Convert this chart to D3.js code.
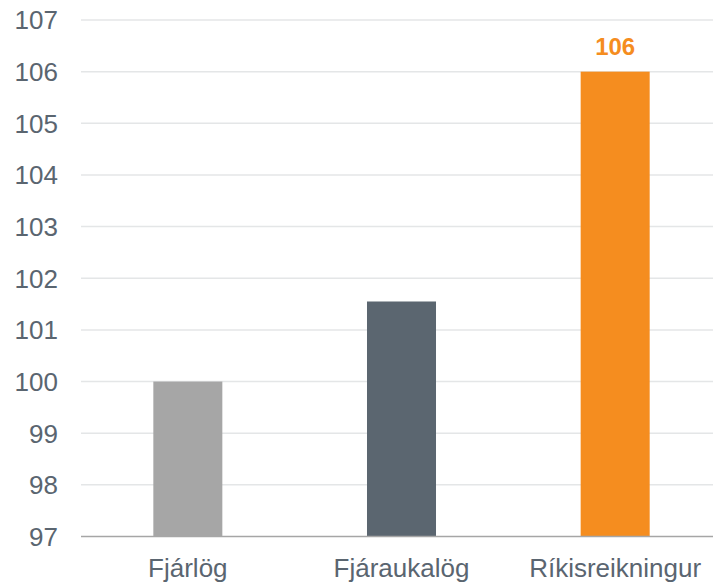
<!DOCTYPE html>
<html>
<head>
<meta charset="utf-8">
<script src="https://cdn.jsdelivr.net/npm/d3@7"></script>
<style>
  body { margin: 0; background: #fff; }
  text { font-family: "Liberation Sans", Arial, sans-serif; }
</style>
</head>
<body>
<div id="chart"></div>
<script>
const categories = ["Fjárlög", "Fjáraukalög", "Ríkisreikningur"];
const values = [100, 101.55, 106];
const colors = ["#a6a6a6", "#5b6670", "#f58d1f"];
const yTicks = [97, 98, 99, 100, 101, 102, 103, 104, 105, 106, 107];
const labelled = [false, false, true];

const width = 713, height = 583;

var svg = d3.select("#chart")
    .append("svg")
    .attr("width", width)
    .attr("height", height);

var x = d3.scaleBand()
    .domain(categories)
    .range([81, 722])
    .paddingInner(0.677)
    .paddingOuter(0.3385);

var y = d3.scaleLinear()
    .domain([97, 107])
    .range([536.5, 20]);

// gridlines
svg.append("g")
    .selectAll("line")
    .data(yTicks.slice(1))
    .enter().append("line")
    .attr("x1", 81)
    .attr("x2", width)
    .attr("y1", d => y(d))
    .attr("y2", d => y(d))
    .attr("stroke", "#e4e6e7")
    .attr("stroke-width", 1.5);

// tick labels
svg.append("g")
    .selectAll("text")
    .data(yTicks)
    .enter().append("text")
    .attr("x", 58)
    .attr("y", d => y(d))
    .attr("dy", "0.36em")
    .attr("text-anchor", "end")
    .attr("fill", "#5a6570")
    .attr("font-size", 26)
    .text(d => d);

// bars
svg.append("g")
    .selectAll("rect")
    .data(values)
    .enter().append("rect")
    .attr("x", (d, i) => x(categories[i]))
    .attr("width", x.bandwidth())
    .attr("y", d => y(d))
    .attr("height", d => y(97) - y(d))
    .attr("fill", (d, i) => colors[i]);

// baseline
svg.append("line")
    .attr("x1", 81)
    .attr("x2", width)
    .attr("y1", y(97))
    .attr("y2", y(97))
    .attr("stroke", "#a6a6a6")
    .attr("stroke-width", 1.5);

// category labels
svg.append("g")
    .selectAll("text")
    .data(categories)
    .enter().append("text")
    .attr("x", d => x(d) + x.bandwidth() / 2)
    .attr("y", 577)
    .attr("text-anchor", "middle")
    .attr("fill", "#5a6570")
    .attr("font-size", 26)
    .text(d => d);

// value label
svg.append("g")
    .selectAll("text")
    .data(values.map((v, i) => ({v, i})).filter(d => labelled[d.i]))
    .enter().append("text")
    .attr("x", d => x(categories[d.i]) + x.bandwidth() / 2)
    .attr("y", d => y(d.v) - 17)
    .attr("text-anchor", "middle")
    .attr("fill", colors[2])
    .attr("font-size", 24)
    .attr("font-weight", "bold")
    .text(d => d3.format(".0f")(d.v));
</script>
</body>
</html>
